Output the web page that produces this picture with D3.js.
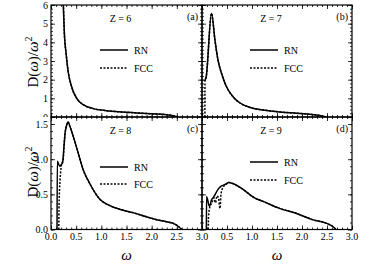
<!DOCTYPE html>
<html>
<head>
<meta charset="utf-8">
<script src="https://cdn.jsdelivr.net/npm/d3@7"></script>
<style>
  body { margin: 0; background: #fff; }
</style>
</head>
<body>
<div id="chart"></div>
<script>
// data, [omega, D(w)/w^2]
const rnA = [[0.23,6.8],[0.245,6],[0.265,4.5],[0.3,3.4],[0.34,2.45],[0.41,1.62],[0.51,1.0],[0.64,0.66],[0.84,0.45],[1.1,0.34],[1.4,0.27],[1.7,0.22],[2.0,0.17],[2.3,0.12],[2.45,0.06],[2.52,0]];
const fccA = [[0.23,6.8],[0.245,6],[0.265,4.5],[0.3,3.4],[0.34,2.45],[0.41,1.62],[0.51,1.0],[0.64,0.66],[0.84,0.45],[1.1,0.34],[1.4,0.27],[1.7,0.22],[2.0,0.17],[2.3,0.12],[2.45,0.06],[2.52,0]];

const rnB = [[0.06,2.0],[0.08,2.1],[0.19,5.55],[0.26,4.1],[0.32,3.05],[0.39,2.34],[0.49,1.62],[0.62,1.09],[0.76,0.75],[0.95,0.52],[1.3,0.35],[1.6,0.26],[1.9,0.2],[2.2,0.13],[2.4,0.06],[2.5,0]];
const fccB = [[0.058,0],[0.06,2.0],[0.08,2.1],[0.19,5.55],[0.26,4.1],[0.32,3.05],[0.39,2.34],[0.49,1.62],[0.62,1.09],[0.76,0.75],[0.95,0.52],[1.3,0.35],[1.6,0.26],[1.9,0.2],[2.2,0.13],[2.4,0.06],[2.5,0]];

const rnC = [[0.12,0],[0.125,0.97],[0.15,0.93],[0.18,0.9],[0.2,0.92],[0.23,0.95],[0.26,1.2],[0.28,1.37],[0.31,1.48],[0.34,1.53],[0.37,1.48],[0.44,1.33],[0.54,1.09],[0.64,0.85],[0.78,0.64],[0.97,0.43],[1.17,0.34],[1.4,0.28],[1.63,0.24],[1.9,0.18],[2.1,0.14],[2.3,0.11],[2.45,0.08],[2.52,0.05],[2.6,0]];
const fccC = [[0.155,0],[0.16,0.35],[0.18,0.7],[0.2,0.88],[0.22,0.95],[0.24,0.98],[0.26,1.2],[0.28,1.37],[0.31,1.48],[0.34,1.53],[0.37,1.48],[0.44,1.33],[0.54,1.09],[0.64,0.85],[0.78,0.64],[0.97,0.43],[1.17,0.34],[1.4,0.28],[1.63,0.24],[1.9,0.18],[2.1,0.14],[2.3,0.11],[2.45,0.08],[2.52,0.05],[2.6,0]];

const rnD = [[0.088,0],[0.09,0.47],[0.15,0.33],[0.19,0.42],[0.24,0.47],[0.28,0.52],[0.32,0.57],[0.37,0.61],[0.46,0.64],[0.54,0.67],[0.66,0.64],[0.82,0.57],[1.05,0.45],[1.22,0.4],[1.55,0.3],[1.88,0.23],[2.21,0.14],[2.48,0.09],[2.6,0.05],[2.68,0]];
const fccD = [[0.125,0],[0.13,0.18],[0.16,0.33],[0.2,0.38],[0.24,0.45],[0.27,0.38],[0.3,0.48],[0.33,0.45],[0.36,0.3],[0.38,0.5],[0.42,0.6],[0.48,0.64],[0.54,0.67],[0.66,0.64],[0.82,0.57],[1.05,0.45],[1.22,0.4],[1.55,0.3],[1.88,0.23],[2.21,0.14],[2.48,0.09],[2.6,0.05],[2.68,0]];

const zLabels = ["Z = 6", "Z = 7", "Z = 8", "Z = 9"];
const panelTags = ["(a)", "(b)", "(c)", "(d)"];
const legendNames = ["RN", "FCC"];
const xTicks = [0, 0.5, 1, 1.5, 2, 2.5, 3];
const yTicksTop = [0, 1, 2, 3, 4, 5, 6];
const yTicksBot = [0, 0.5, 1.0, 1.5];

const FONT = "Liberation Serif, serif";
const width = 374, height = 264;
const svg = d3.select("#chart").append("svg")
  .attr("width", width).attr("height", height)
  .style("font-family", FONT);

// panel layout
const xL = [51, 202], xR = [202, 352];
const yT = [117, 5], yB = [229.5, 117];

const panels = [
  {rn: rnA, fcc: fccA, xr: xL, yr: yT, ydom: [0, 6], left: true, bottom: false, leg: [50, 68]},
  {rn: rnB, fcc: fccB, xr: xR, yr: yT, ydom: [0, 6], left: false, bottom: false, leg: [50, 68]},
  {rn: rnC, fcc: fccC, xr: xL, yr: yB, ydom: [0, 1.6], left: true, bottom: true, leg: [167, 184]},
  {rn: rnD, fcc: fccD, xr: xR, yr: yB, ydom: [0, 1.6], left: false, bottom: true, leg: [162, 180]}
];

// clip for top-left y labels (the "0" is cut at the panel border)
svg.append("clipPath").attr("id", "cliplab")
  .append("rect").attr("x", 0).attr("y", 0).attr("width", 51).attr("height", 117);

panels.forEach((p, i) => {
  const x = d3.scaleLinear().domain([0, 3]).range(p.xr);
  const y = d3.scaleLinear().domain(p.ydom).range(p.yr);
  const g = svg.append("g");

  svg.append("clipPath").attr("id", "clip" + i)
    .append("rect")
    .attr("x", p.xr[0]).attr("y", p.yr[1])
    .attr("width", p.xr[1] - p.xr[0]).attr("height", p.yr[0] - p.yr[1]);

  // ticks - inward on all sides
  const ymajor = p.ydom[1] > 2 ? 1 : 0.5;
  const yminor = p.ydom[1] > 2 ? 0.2 : 0.1;
  const yMinorTicks = d3.range(0, p.ydom[1] + 1e-9, yminor);
  const yMajorTicks = d3.range(0, p.ydom[1] + 1e-9, ymajor);
  const xMinorTicks = d3.range(0, 3.0001, 0.1);

  const tk = (axis, tr) => g.append("g").attr("transform", tr).call(axis)
    .call(a => a.select(".domain").remove())
    .call(a => a.selectAll("text").remove())
    .call(a => a.selectAll("line").attr("stroke", "#000").attr("stroke-width", 0.8));

  tk(d3.axisBottom(x).tickValues(xMinorTicks).tickSize(-2), `translate(0,${p.yr[0]})`);
  tk(d3.axisBottom(x).tickValues(xTicks).tickSize(-4), `translate(0,${p.yr[0]})`);
  tk(d3.axisTop(x).tickValues(xMinorTicks).tickSize(-2), `translate(0,${p.yr[1]})`);
  tk(d3.axisTop(x).tickValues(xTicks).tickSize(-4), `translate(0,${p.yr[1]})`);
  tk(d3.axisLeft(y).tickValues(yMinorTicks).tickSize(-2), `translate(${p.xr[0]},0)`);
  tk(d3.axisLeft(y).tickValues(yMajorTicks).tickSize(-4), `translate(${p.xr[0]},0)`);
  tk(d3.axisRight(y).tickValues(yMinorTicks).tickSize(-2), `translate(${p.xr[1]},0)`);
  tk(d3.axisRight(y).tickValues(yMajorTicks).tickSize(-4), `translate(${p.xr[1]},0)`);

  // frame
  g.append("rect")
    .attr("x", p.xr[0]).attr("y", p.yr[1])
    .attr("width", p.xr[1] - p.xr[0]).attr("height", p.yr[0] - p.yr[1])
    .attr("fill", "none").attr("stroke", "#000").attr("stroke-width", 1.2);

  // tick labels
  if (p.left) {
    const labs = p.ydom[1] > 2 ? yTicksTop.slice(1) : yTicksBot;
    g.selectAll(".yl").data(labs).join("text")
      .attr("class", "yl")
      .attr("x", p.xr[0] - 3)
      .attr("y", d => y(d) + 3.5)
      .attr("text-anchor", "end")
      .attr("font-size", "10px")
      .text(d => p.ydom[1] > 2 ? d3.format("d")(d) : d3.format(".1f")(d));
    if (p.ydom[1] > 2) {
      // the cut "0" of the top panel
      g.append("text").attr("clip-path", "url(#cliplab)")
        .attr("x", p.xr[0] - 3).attr("y", y(0) + 4)
        .attr("text-anchor", "end").attr("font-size", "10px")
        .text(yTicksTop[0]);
    }
  }
  if (p.bottom) {
    g.selectAll(".xl").data(p.left ? xTicks : xTicks.slice(1)).join("text")
      .attr("class", "xl")
      .attr("x", d => x(d))
      .attr("y", 240)
      .attr("text-anchor", "middle")
      .attr("font-size", "10px")
      .text(d => d3.format(".1f")(d));
    g.append("text")
      .attr("x", (p.xr[0] + p.xr[1]) / 2)
      .attr("y", 260)
      .attr("text-anchor", "middle")
      .attr("font-size", "15px")
      .attr("font-style", "italic")
      .text("ω");
  }

  // curves
  const line = d3.line()
    .x(d => x(d[0])).y(d => y(d[1]))
    .curve(d3.curveMonotoneX);
  const cg = g.append("g").attr("clip-path", `url(#clip${i})`);
  cg.append("path").datum(p.rn).attr("d", line)
    .attr("fill", "none").attr("stroke", "#000").attr("stroke-width", 1.5);
  cg.append("path").datum(p.fcc).attr("d", line)
    .attr("fill", "none").attr("stroke", "#000").attr("stroke-width", 1.5)
    .attr("stroke-dasharray", "2,1.5");

  // annotations
  const cx = (p.xr[0] + p.xr[1]) / 2;
  g.append("text").attr("x", cx - 6).attr("y", p.yr[1] + 17)
    .attr("text-anchor", "middle").attr("font-size", "10px").text(zLabels[i]);
  g.append("text").attr("x", p.xr[1] - 4).attr("y", p.yr[1] + 15)
    .attr("text-anchor", "end").attr("font-size", "10px").text(panelTags[i]);

  // legend
  const lx = p.xr[0] + (p.left ? 49 : 48);
  legendNames.forEach((nm, k) => {
    g.append("line")
      .attr("x1", lx).attr("x2", lx + 28)
      .attr("y1", p.leg[k]).attr("y2", p.leg[k])
      .attr("stroke", "#000").attr("stroke-width", 1.5)
      .attr("stroke-dasharray", k === 1 ? "2,1.5" : null);
    g.append("text")
      .attr("x", lx + 34).attr("y", p.leg[k] + 3.5)
      .attr("font-size", "10px").text(nm);
  });
});

// y axis titles
[62, 172].forEach(cy => {
  const t = svg.append("text")
    .attr("transform", `translate(38,${cy}) rotate(-90)`)
    .attr("text-anchor", "middle")
    .attr("font-size", "15px");
  t.append("tspan").text("D(");
  t.append("tspan").attr("font-style", "italic").text("ω");
  t.append("tspan").text(")/");
  t.append("tspan").attr("font-style", "italic").text("ω");
  t.append("tspan").attr("font-size", "10px").attr("dy", -6).text("2");
});
</script>
</body>
</html>
